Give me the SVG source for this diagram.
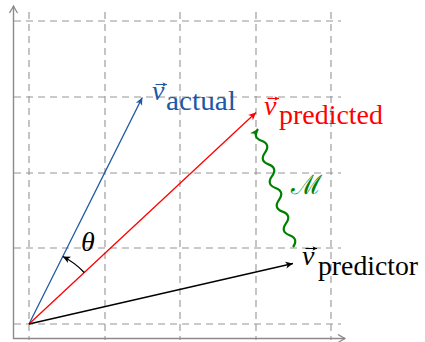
<svg xmlns="http://www.w3.org/2000/svg" width="425" height="342" viewBox="0 0 425 342">
<style>
.grid{stroke:#959595;stroke-width:1.1;stroke-dasharray:7 5;fill:none}
.axis{stroke:#8a8a8a;stroke-width:1.4;fill:none}
.vec{stroke-width:1.3;fill:none}
.acc{stroke-width:1.1;fill:none}
text{font-family:'Liberation Serif','DejaVu Serif','Times New Roman',serif;font-size:27px}
.v{font-style:italic;font-size:28px}
</style>
<defs>
<marker id="ab" viewBox="-8 -4 9 8" refX="0" refY="0" markerWidth="9" markerHeight="8" markerUnits="userSpaceOnUse" orient="auto"><path d="M0,0 L-7.5,-3.5 L-5.5,0 L-7.5,3.5 Z" fill="#1d58a4"/></marker>
<marker id="ar" viewBox="-8 -4 9 8" refX="0" refY="0" markerWidth="9" markerHeight="8" markerUnits="userSpaceOnUse" orient="auto"><path d="M0,0 L-7.5,-3.5 L-5.5,0 L-7.5,3.5 Z" fill="#ff0000"/></marker>
<marker id="ak" viewBox="-8 -4 9 8" refX="0" refY="0" markerWidth="9" markerHeight="8" markerUnits="userSpaceOnUse" orient="auto"><path d="M0,0 L-7.5,-3.5 L-5.5,0 L-7.5,3.5 Z" fill="#000"/></marker>
<marker id="ag" viewBox="-9 -5 10 10" refX="0" refY="0" markerWidth="10" markerHeight="10" markerUnits="userSpaceOnUse" orient="auto"><path d="M0,0 L-8,-4 L-6,0 L-8,4 Z" fill="#008000"/></marker>
<marker id="ax" viewBox="-9 -5 10 10" refX="0" refY="0" markerWidth="10" markerHeight="10" markerUnits="userSpaceOnUse" orient="auto"><path d="M-7,-4 Q-2,-1 0,0 Q-2,1 -7,4" fill="none" stroke="#8a8a8a" stroke-width="1.3"/></marker>
<marker id="sb" viewBox="-5 -3 6 6" refX="0" refY="0" markerWidth="6" markerHeight="6" markerUnits="userSpaceOnUse" orient="auto"><path d="M0,0 L-4.5,-2.3 L-3.3,0 L-4.5,2.3 Z" fill="#1d58a4"/></marker>
<marker id="sr" viewBox="-5 -3 6 6" refX="0" refY="0" markerWidth="6" markerHeight="6" markerUnits="userSpaceOnUse" orient="auto"><path d="M0,0 L-4.5,-2.3 L-3.3,0 L-4.5,2.3 Z" fill="#ff0000"/></marker>
<marker id="sk" viewBox="-5 -3 6 6" refX="0" refY="0" markerWidth="6" markerHeight="6" markerUnits="userSpaceOnUse" orient="auto"><path d="M0,0 L-4.5,-2.3 L-3.3,0 L-4.5,2.3 Z" fill="#000"/></marker>
</defs>
<g id="grid">
<path class="grid" d="M29,12V340 M105,12V340 M180,12V340 M256,12V340 M331,12V340"/>
<path class="grid" d="M14,21H341 M14,97H341 M14,173H341 M14,248H341 M14,324H341"/>
</g>
<g id="axes">
<path class="axis" d="M13.5,339V6" marker-end="url(#ax)"/>
<path class="axis" d="M13,338.5H345" marker-end="url(#ax)"/>
</g>
<g id="connectors">
<path id="v-actual" class="vec" stroke="#1d58a4" d="M29,324L142.3,97.5" marker-end="url(#ab)"/>
<path id="v-predicted" class="vec" stroke="#ff0000" d="M29,324L256,112.5" marker-end="url(#ar)"/>
<path id="v-predictor" class="vec" stroke="#000" d="M29,324L293,263.5" marker-end="url(#ak)"/>
<path id="theta-arc" class="vec" stroke="#000" d="M84.2,272.5A75.5,75.5 0 0 0 62.8,256.5" marker-end="url(#ak)"/>
<path id="snake" fill="none" stroke="#008000" stroke-width="2.2" d="M293,247 Q298.9,238.8 289.5,235.2 Q280.1,231.6 286,223.4 Q291.9,215.2 282.5,211.6 Q273.1,208 279,199.8 Q284.9,191.6 275.5,188 Q266.1,184.4 272,176.2 Q277.9,168 268.5,164.4 Q259.1,160.8 265,152.6 Q270.9,144.4 261.5,140.8 Q252.1,137.2 258,129" marker-end="url(#ag)"/>
</g>
<g id="label-actual" fill="#1d58a4">
<path class="acc" stroke="#1d58a4" d="M155.5,84.5H167" marker-end="url(#sb)"/>
<text x="152" y="100"><tspan class="v">v</tspan><tspan x="166" y="110" textLength="70" lengthAdjust="spacingAndGlyphs">actual</tspan></text>
</g>
<g id="label-predicted" fill="#ff0000">
<path class="acc" stroke="#ff0000" d="M267.5,98.5H279" marker-end="url(#sr)"/>
<text x="264" y="115"><tspan class="v">v</tspan><tspan x="279" y="124.3" textLength="104" lengthAdjust="spacingAndGlyphs">predicted</tspan></text>
</g>
<g id="label-predictor" fill="#000">
<path class="acc" stroke="#000" d="M305.5,248.5H317" marker-end="url(#sk)"/>
<text x="302" y="265"><tspan class="v">v</tspan><tspan x="318" y="275" textLength="100" lengthAdjust="spacingAndGlyphs">predictor</tspan></text>
</g>
<g id="label-theta"><text class="v" x="81" y="251">θ</text></g>
<g id="label-M"><text x="291" y="194" font-size="21" fill="#008000">ℳ</text></g>
</svg>
